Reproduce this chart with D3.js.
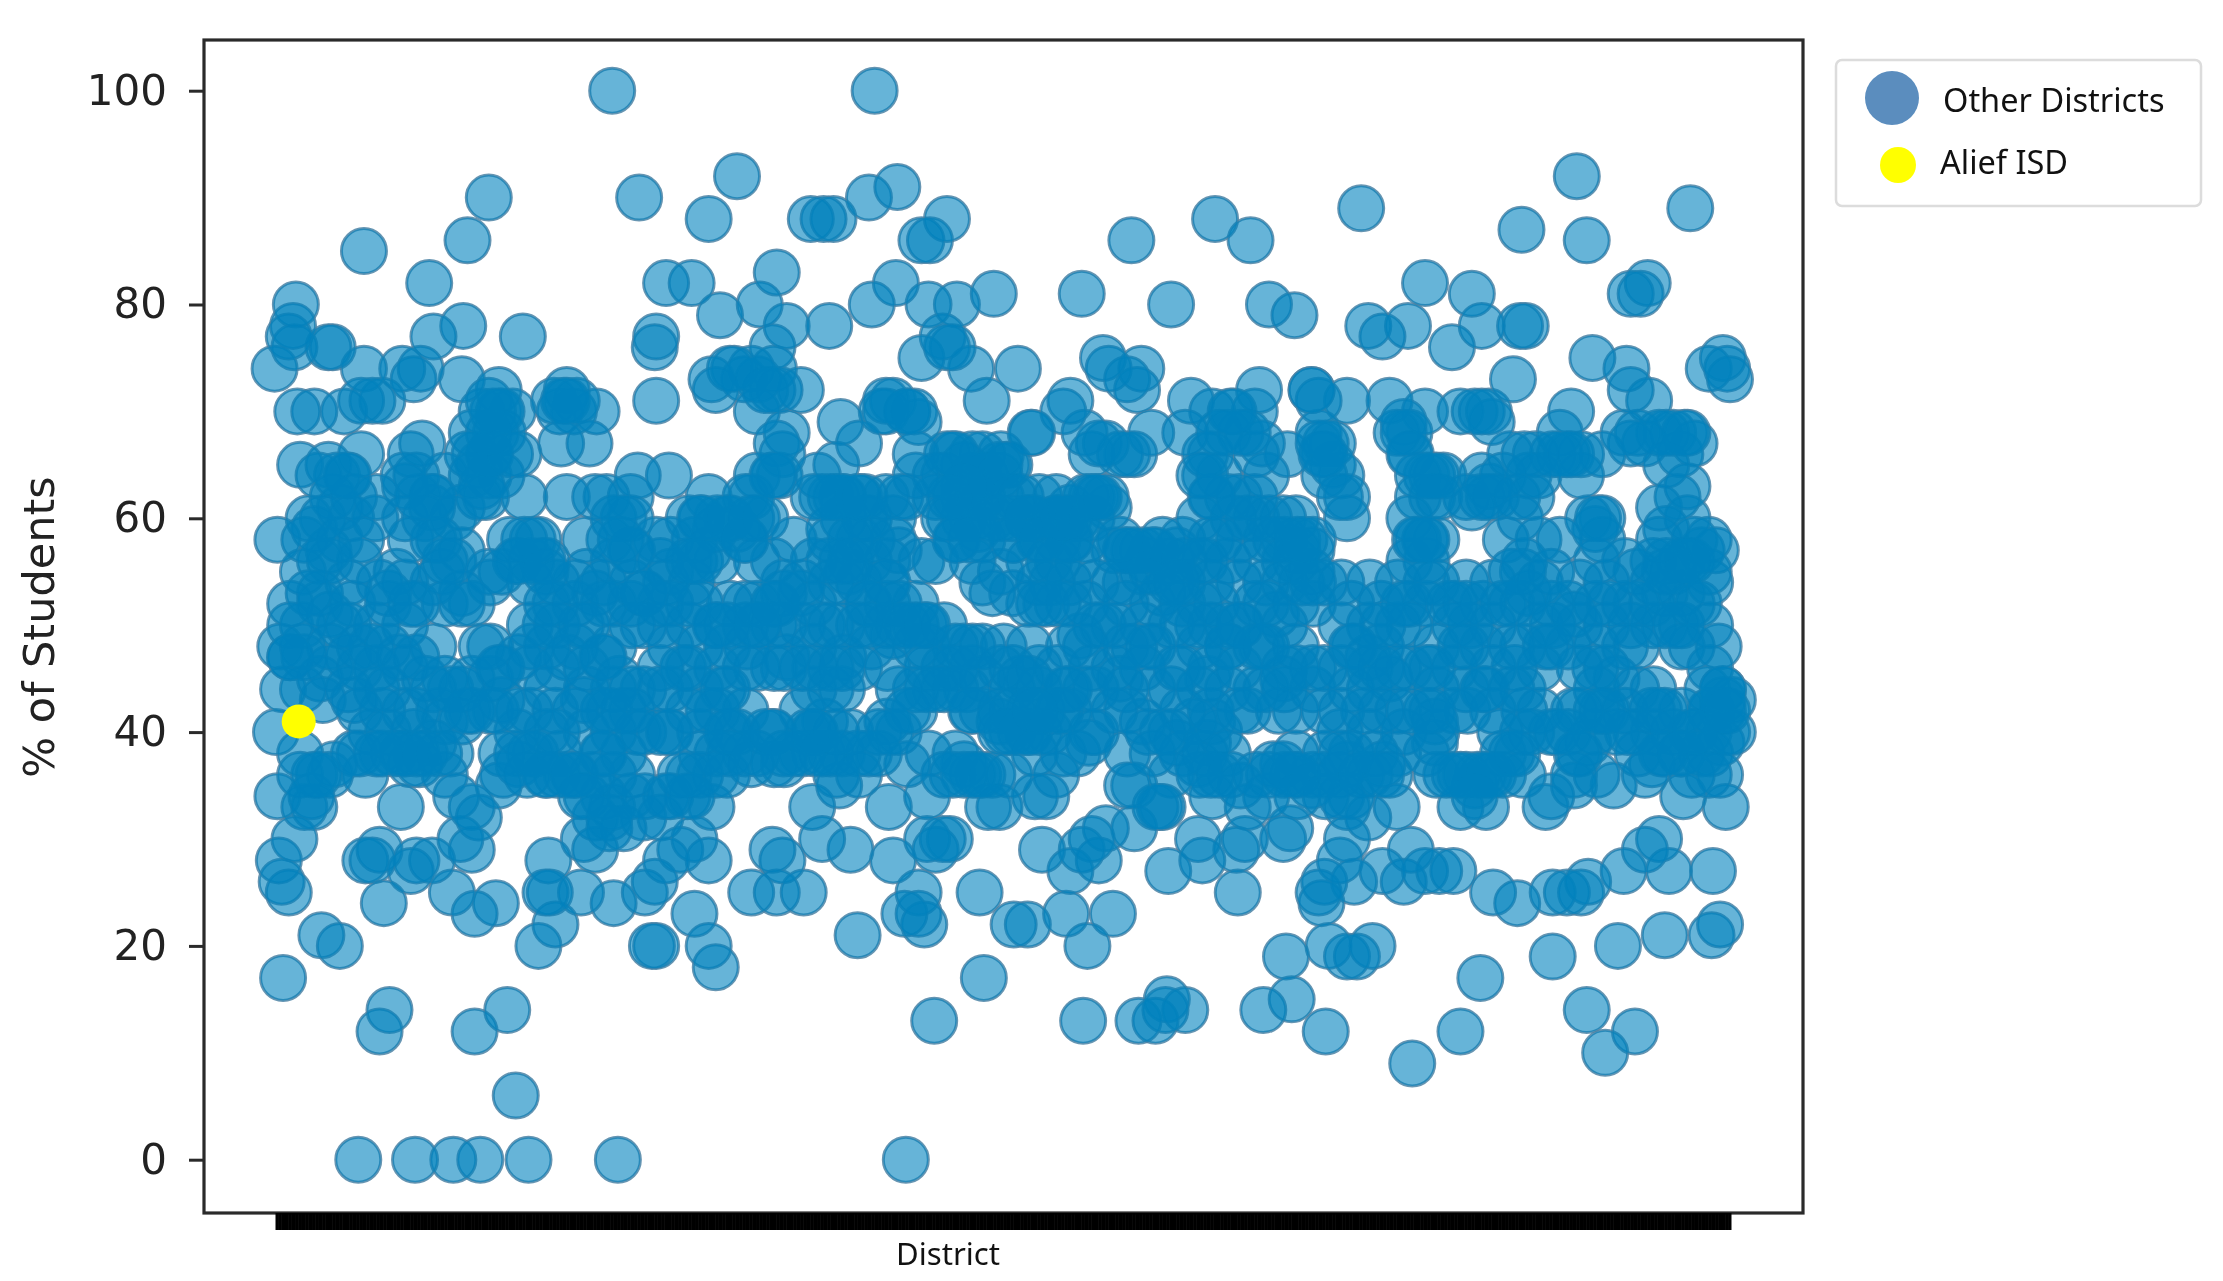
<!DOCTYPE html>
<html><head><meta charset="utf-8">
<script src="https://cdn.jsdelivr.net/npm/d3@7"></script>
<style>html,body{margin:0;background:#fff}svg{display:block;filter:blur(0.6px)}</style></head>
<body><svg id="c" width="2223" height="1281"></svg>
<script>
// [district position along the axis, % of students]
const topBand = [[432,100],[617,100],[345,90],[451,90],[520,92],[613,90],[633,91],[500,88],[572,88],[588,88],[581,88],[668,88],[650,86],[656,86],[330,86],[257,85],[798,86],[857,88],[882,86],[960,89],[1112,92],[1192,89],[1073,87],[1119,86],[303,82],[470,82],[488,82],[548,83],[632,82],[209,80],[207,78],[204,77],[208,76],[235,76],[232,76],[327,78],[306,77],[369,77],[463,77],[462,76],[585,78],[555,78],[536,80],[545,76],[615,80],[508,79],[655,80],[675,80],[701,81],[763,81],[826,80],[895,80],[913,79],[1005,82],[1038,81],[1162,82],[1157,81],[1150,81],[1076,78],[1072,78],[1045,78],[965,78],[975,77],[993,78],[1024,76],[665,77],[672,76]];
const upperBand = [[194,74],[257,74],[263,71],[284,74],[297,74],[292,73],[326,73],[352,72],[400,72],[407,71],[391,71],[463,71],[502,73],[518,74],[530,74],[545,72],[565,72],[650,75],[668,76],[685,74],[718,74],[696,71],[728,68],[778,75],[782,74],[795,73],[805,74],[802,72],[888,72],[925,72],[930,71],[1067,73],[1123,75],[1147,74],[1150,72],[1215,75],[1205,74],[1218,74],[1220,73],[1108,70],[210,70],[222,70],[243,70],[255,71],[270,71],[345,71],[362,70],[350,68],[421,70],[396,67],[416,67],[593,69],[606,67],[625,71],[622,70],[640,70],[648,69],[755,71],[750,70],[727,68],[840,71],[855,70],[868,70],[950,71],[980,71],[990,68],[1005,70],[1030,70],[1045,70],[1052,69],[1100,68],[1105,66],[1150,67],[1160,67],[1175,68],[1188,68],[1195,67],[1163,71],[1190,63],[212,65],[232,65],[238,64],[255,66],[298,67],[330,66],[338,65],[345,64],[370,62],[400,62],[428,62],[445,62],[472,64],[450,64],[500,62],[548,67],[552,66],[590,65],[577,64],[640,62],[660,64],[672,66],[680,65],[690,64],[705,65],[712,65],[765,68],[780,67],[795,66],[812,68],[836,68],[850,64],[880,68],[890,67],[908,66],[930,67],[940,67],[1000,62],[1018,64],[1050,63],[1045,62],[1078,64],[1083,66],[1115,64],[1130,66],[1210,57],[1183,62],[1170,61],[1175,59],[1130,60],[1125,59],[218,60],[222,59],[240,61],[265,60],[286,63],[295,62],[305,61],[320,60],[343,62],[376,58],[413,58],[433,60],[438,58],[463,58],[495,60],[520,59],[530,62],[595,62],[585,59],[610,60],[630,58],[680,62],[690,59],[715,58],[730,60],[745,60],[755,58],[770,62],[782,61],[795,57],[815,57],[830,57],[860,58],[885,62],[895,60],[950,60],[998,58],[1010,62],[1038,61],[1062,58],[1072,60],[1100,58],[1200,57],[196,58],[232,57],[248,60],[290,58],[360,58],[383,56],[445,57],[500,57],[650,56],[660,56],[668,66],[850,56],[915,57],[925,57],[1075,56]];
const coreBand = [[218,53],[226,52],[249,52],[268,54],[280,55],[290,52],[312,55],[326,52],[345,55],[364,56],[392,52],[410,50],[420,53],[445,52],[455,53],[470,54],[488,54],[505,50],[515,52],[535,50],[548,52],[565,53],[580,50],[598,55],[612,52],[625,54],[640,50],[652,50],[680,48],[700,53],[738,52],[742,54],[762,49],[778,50],[800,48],[820,53],[845,50],[858,52],[875,50],[900,51],[918,54],[955,48],[975,50],[990,52],[1022,52],[1037,50],[1060,52],[1078,53],[1095,50],[1110,51],[1135,52],[1150,50],[1165,52],[1182,50],[1198,52],[1205,55],[198,48],[205,47],[215,47],[240,50],[262,48],[282,47],[300,45],[318,44],[340,48],[352,46],[375,48],[385,50],[400,47],[425,47],[437,45],[482,46],[510,44],[527,48],[555,47],[575,46],[595,47],[615,48],[630,49],[660,44],[682,44],[708,48],[720,45],[752,44],[770,46],[790,45],[810,48],[830,46],[852,45],[866,48],[890,48],[905,45],[965,47],[980,45],[1010,46],[1030,48],[1048,44],[1068,46],[1090,48],[1125,46],[1140,45],[1186,48],[1212,48],[1222,43],[1204,44],[1215,43],[1207,42],[200,44],[228,43],[250,43],[270,42],[292,40],[310,42],[330,42],[350,42],[365,40],[392,42],[412,43],[430,42],[450,40],[472,40],[500,42],[520,40],[540,40],[570,40],[582,41],[605,38],[628,40],[645,42],[685,42],[705,41],[725,40],[735,42],[748,42],[770,40],[795,42],[820,40],[842,41],[860,40],[880,42],[902,42],[945,40],[962,42],[1012,41],[1035,42],[1058,40],[1075,42],[1098,40],[1110,42],[1125,40],[1148,40],[1170,42],[1205,40],[1218,40],[1222,40],[1214,39],[195,40],[212,38],[236,37],[262,40],[284,38],[296,37],[378,38],[400,36],[418,36],[440,38],[515,38],[553,37],[575,38],[590,36],[620,38],[640,37],[672,36],[690,36],[712,36],[730,34],[745,36],[768,39],[800,35],[815,33],[845,37],[852,39],[875,35],[898,37],[912,36],[935,38],[950,37],[975,37],[1012,39],[1030,36],[1042,36],[1060,36],[1110,36],[1160,36],[1172,38],[1200,38],[1213,36]];
const lowerBand = [[199,26],[204,25],[197,28],[208,30],[196,34],[215,33],[222,33],[222,36],[258,28],[263,28],[268,29],[283,33],[294,28],[290,27],[305,28],[333,33],[338,32],[333,29],[325,30],[352,35],[385,25],[388,25],[387,28],[410,25],[412,30],[420,29],[430,31],[432,33],[445,34],[455,34],[485,34],[488,34],[502,33],[480,29],[470,28],[500,28],[530,25],[548,25],[567,25],[545,29],[552,28],[600,29],[573,33],[580,30],[592,35],[627,33],[630,28],[660,29],[665,30],[670,30],[654,30],[697,33],[680,37],[735,29],[738,34],[755,27],[763,29],[770,30],[775,28],[800,31],[780,31],[795,35],[818,33],[824,27],[845,30],[848,28],[855,34],[872,29],[873,25],[878,30],[880,33],[905,30],[910,31],[915,36],[945,28],[950,30],[955,26],[975,27],[965,32],[985,33],[990,26],[995,29],[1005,27],[1015,27],[1025,27],[1030,33],[1048,33],[1040,35],[1095,25],[1105,25],[1115,25],[1120,26],[1145,27],[1160,29],[1170,30],[1177,27],[1208,27],[1217,33],[1187,34],[1090,33],[1110,35],[1138,35],[1165,37],[1053,25],[1070,24],[691,25],[930,25],[934,26],[932,24],[271,24],[350,24],[335,23],[319,25],[433,24],[490,23],[455,25],[462,26],[648,25],[200,17],[227,21],[240,20],[380,20],[392,22],[460,20],[463,20],[500,20],[505,18],[605,21],[652,22],[648,23],[638,23],[694,17],[715,22],[725,22],[752,23],[767,20],[785,23],[950,19],[957,19],[968,20],[937,20],[1044,17],[1095,19],[1141,20],[1174,21],[1207,21],[1213,22]];
const floorBand = [[253,0],[293,0],[320,0],[339,0],[373,0],[436,0],[639,0],[364,6],[275,14],[268,12],[358,14],[335,12],[823,15],[822,14],[836,14],[803,13],[815,13],[764,13],[659,13],[891,14],[911,15],[907,19],[935,12],[996,9],[1030,12],[1119,14],[1132,10],[1153,12]];
const denseColumns = [[205,[47,50,52]],[214,[44,48,50,55]],[226,[45,53,56]],[233,[48,51,56,46,36]],[246,[44,47,50,54,64]],[254,[42,46,48,38,56]],[266,[38,44,46,50,62]],[274,[40,44,48,53,52]],[286,[38,42,46,50,54,60]],[294,[38,42,47,52,64]],[306,[39,44,48,54,58,62]],[314,[36,41,45,52,56,64]],[326,[41,44,53,57,61]],[333,[42,45,52,64,68]],[346,[42,45,48,54,66]],[354,[38,43,46,55,64,70]],[366,[37,42,47,56,66]],[374,[38,42,46,50,54]],[386,[36,40,44,48,52,56]],[393,[36,40,46,50,54]],[406,[36,42,48,52,54]],[414,[34,40,44,46,50,55]],[426,[34,38,42,47,52,54]],[433,[36,40,44,48,52,56]],[446,[36,42,44,50,54,57]],[454,[32,40,44,50,53]],[466,[32,40,44,46,50,52,56]],[473,[34,40,44,48,52,55,58]],[486,[36,42,46,50,52,56,60]],[494,[36,40,44,48,52,56,60]],[506,[38,42,46,50,56,60]],[513,[36,40,44,48,50,60]],[526,[38,42,46,50,52,58,62]],[534,[38,46,50,52,56,60,64,70]],[546,[37,40,46,50,52,56,64,74]],[553,[38,46,50,53,54]],[566,[38,42,46,50,54]],[574,[40,44,48,52,56,62]],[586,[38,44,46,50,54,58,62]],[594,[38,44,46,50,54,56,62]],[606,[36,46,50,54,58,62]],[613,[38,50,52,56,60]],[626,[41,46,50,52,54,56]],[634,[40,44,50,52,57]],[646,[44,48,52,50,66,64]],[654,[34,44,46,48,50]],[666,[36,44,46,50,60,64]],[674,[38,44,46,48,58,62,66]],[686,[36,42,46,48,56,60,64,66]],[693,[36,42,45,48,54,58,62,66]],[706,[40,42,46,55,60,62,66]],[714,[40,42,44,46,53,58,60]],[726,[40,42,45,48,52,56,60]],[733,[40,44,46,52,54,58,62]],[746,[42,46,52,56,58,60]],[754,[42,44,48,52,54,58,60]],[766,[44,48,52,58,62]],[773,[40,44,50,54,62]],[786,[42,46,50,54,57]],[794,[44,48,52,54,57]],[806,[41,46,50,55,57]],[813,[38,44,48,52,55,57]],[826,[36,40,44,50,54,56]],[834,[38,42,46,50,52,54,58]],[846,[36,44,48,52,56,60,64]],[854,[36,42,46,50,54,58,62,66]],[866,[38,44,48,50,56,62,68]],[874,[42,46,50,54,58,62]],[886,[36,44,48,52,56,60,66]],[893,[34,44,48,52,54,58,64]],[906,[36,44,46,50,54,56,58]],[914,[38,42,46,48,52,56,60]],[926,[36,44,46,52,54,58]],[934,[36,42,46,54,64,66]],[946,[34,38,42,46,50,54,64]],[953,[34,38,44,48,52]],[966,[36,40,44,46,50,54]],[974,[36,42,46,48,52]],[986,[38,42,46,50,54]],[994,[42,46,50,52,56,60,66,68]],[1006,[38,42,46,52,54,56,58,64]],[1013,[36,40,44,48,54,58,64]],[1026,[36,42,46,50,52]],[1034,[36,44,48,52,54,62]],[1046,[36,44,48,52]],[1053,[36,42,46,50,54]],[1066,[38,44,48,52,55]],[1074,[36,40,44,48,52,55]],[1086,[42,46,50,54]],[1094,[34,40,48,52,55]],[1106,[40,48,52]],[1114,[38,42,46,50,54]],[1126,[36,42,44,48,52,56]],[1133,[42,46,50,54]],[1146,[42,48,52,56]],[1154,[40,44,48,52,55]],[1166,[40,44,50,54,56]],[1174,[38,42,50,53,55]],[1186,[38,42,50,53,56]],[1193,[36,40,48,52,56]],[1206,[38,42,46,50,54]],[1215,[42,44]]];
const upperFill = [[225,64],[235,62],[228,60],[245,64],[250,62],[215,58],[240,58],[255,58],[285,64],[290,66],[305,62],[300,60],[310,58],[320,56],[338,62],[340,63],[335,66],[345,66],[348,70],[352,70],[355,68],[360,66],[345,68],[340,70],[375,56],[370,58],[380,58],[385,55],[395,70],[400,71],[405,70],[398,71],[420,62],[440,60],[430,58],[445,60],[490,58],[505,59],[515,60],[525,58],[530,60],[490,56],[505,72],[515,74],[525,73],[535,73],[540,72],[550,72],[555,68],[545,64],[550,64],[540,60],[560,58],[580,62],[590,62],[595,60],[600,58],[605,62],[610,62],[585,56],[600,56],[615,58],[625,62],[630,60],[635,62],[625,70],[630,71],[640,70],[645,70],[670,60],[675,58],[680,60],[685,58],[690,62],[695,64],[705,64],[710,65],[680,63],[670,62],[715,62],[700,60],[720,62],[660,62],[725,60],[735,58],[745,62],[750,60],[755,61],[760,60],[770,60],[775,62],[780,62],[740,56],[760,56],[790,66],[800,66],[770,66],[775,67],[800,57],[810,56],[820,58],[835,56],[790,58],[830,54],[855,62],[860,64],[870,60],[875,68],[885,70],[870,70],[850,66],[860,68],[880,60],[900,58],[905,60],[915,58],[925,55],[920,58],[925,72],[930,68],[935,67],[940,65],[932,66],[945,62],[950,62],[985,68],[990,69],[1000,58],[1005,58],[1000,64],[1010,64],[995,66],[1015,62],[1040,70],[1050,70],[1045,64],[1050,62],[1055,62],[1065,66],[1075,66],[1080,62],[1085,64],[1060,64],[1070,62],[1085,58],[1095,66],[1100,66],[1108,66],[1115,66],[1120,60],[1127,60],[1130,58],[1145,68],[1155,68],[1170,68],[1180,68],[1190,68],[1185,66],[1175,65],[1190,60],[1195,58],[1205,58],[1175,56],[1180,55],[1190,56],[1170,58]];
const lowerFill = [[212,36],[220,34],[225,36],[250,38],[258,36],[270,38],[278,38],[290,37],[300,38],[310,38],[318,38],[322,34],[355,36],[365,38],[372,36],[385,36],[395,38],[405,36],[410,34],[420,32],[430,32],[440,31],[425,38],[440,42],[470,34],[480,36],[490,30],[495,38],[505,36],[515,40],[530,37],[545,40],[560,38],[575,40],[580,38],[590,40],[600,40],[620,40],[640,42],[655,38],[680,36],[700,36],[705,33],[710,40],[720,40],[730,42],[740,40],[750,38],[760,38],[730,38],[795,38],[810,40],[820,33],[830,39],[850,38],[855,41],[860,36],[868,36],[895,36],[905,37],[915,34],[925,35],[935,34],[945,36],[950,33],[960,36],[970,38],[980,36],[990,40],[1010,42],[1020,36],[1050,36],[1040,34],[1060,38],[1070,38],[1080,40],[1112,38],[1120,39],[1130,42],[1140,40],[1155,38],[1165,42],[1180,40],[1185,38],[1195,40],[1205,36],[1215,44],[1218,42]];
const denseBand = denseColumns.flatMap(([r,vs])=>vs.map(v=>[r,v]));
const otherDistricts = [...topBand, ...upperBand, ...coreBand, ...lowerBand, ...floorBand, ...denseBand, ...upperFill, ...lowerFill];
const aliefDistrict = [[211,41]];
const rankExtent = [195,1220];
const percentTicks = [0,20,40,60,80,100];
const legendItems = [{label:"Other Districts",color:"#5b8dbe",r:27,cx:1892,cy:98,tx:1943,ty:112},{label:"Alief ISD",color:"#ffff00",r:18,cx:1898,cy:165,tx:1940,ty:174}];

const svg = d3.select("#c");
const frame = {l:204,r:1803,t:40,b:1213};
const x = d3.scaleLinear().domain(rankExtent).range([276,1730]);
const y = d3.scaleLinear().domain([0,100]).range([1159.7,90.7]);

// Rims sit under every fill so stacked discs melt into a flat dark mass.
svg.append("g").selectAll("circle").data(otherDistricts).join("circle")
  .attr("cx",d=>x(d[0])).attr("cy",d=>y(d[1])).attr("r",22.5)
  .attr("fill","none").attr("stroke","rgba(75,130,165,0.85)").attr("stroke-width",3);
svg.append("g").selectAll("circle").data(otherDistricts).join("circle")
  .attr("cx",d=>x(d[0])).attr("cy",d=>y(d[1])).attr("r",22.5)
  .attr("fill","rgba(0,130,190,0.6)");
svg.append("g").selectAll("circle").data(aliefDistrict).join("circle")
  .attr("cx",d=>x(d[0])).attr("cy",d=>y(d[1])).attr("r",17)
  .attr("fill","#ffff00");

svg.append("rect").attr("x",frame.l).attr("y",frame.t).attr("width",frame.r-frame.l).attr("height",frame.b-frame.t)
  .attr("fill","none").attr("stroke","#2a2a2a").attr("stroke-width",3.2);

const yAxis = svg.append("g").attr("transform",`translate(${frame.l},0)`)
  .call(d3.axisLeft(y).tickValues(percentTicks).tickSize(15).tickPadding(22));
yAxis.select(".domain").remove();
yAxis.selectAll("line").attr("stroke","#2a2a2a").attr("stroke-width",3);
yAxis.selectAll("text").attr("font-family","DejaVu Sans").attr("font-size",42).attr("fill","#222");

const xAxis = svg.append("g").attr("transform",`translate(0,${frame.b})`)
  .call(d3.axisBottom(x).tickValues(d3.range(rankExtent[0],rankExtent[1]+1)).tickSize(17).tickFormat(""));
xAxis.select(".domain").remove();
xAxis.selectAll("line").attr("stroke","#000").attr("stroke-width",2);

svg.append("text").attr("transform","translate(54,627) rotate(-90)").attr("text-anchor","middle")
  .attr("font-family","DejaVu Sans").attr("font-size",43).attr("fill","#222").text("% of Students");
svg.append("text").attr("x",896).attr("y",1265).attr("font-family","Liberation Sans Narrow, Noto Sans").attr("font-size",31)
  .attr("textLength",104).attr("lengthAdjust","spacingAndGlyphs").attr("fill","#111").text("District");

svg.append("rect").attr("x",1836).attr("y",60).attr("width",365).attr("height",146).attr("rx",6)
  .attr("fill","#fff").attr("stroke","#dcdcdc").attr("stroke-width",2.5);
const lg = svg.append("g").selectAll("g").data(legendItems).join("g");
lg.append("circle").attr("cx",d=>d.cx).attr("cy",d=>d.cy).attr("r",d=>d.r).attr("fill",d=>d.color);
lg.append("text").attr("x",d=>d.tx).attr("y",d=>d.ty).attr("font-family","Noto Sans").attr("font-size",32.5).attr("fill","#111").text(d=>d.label);
</script></body></html>
